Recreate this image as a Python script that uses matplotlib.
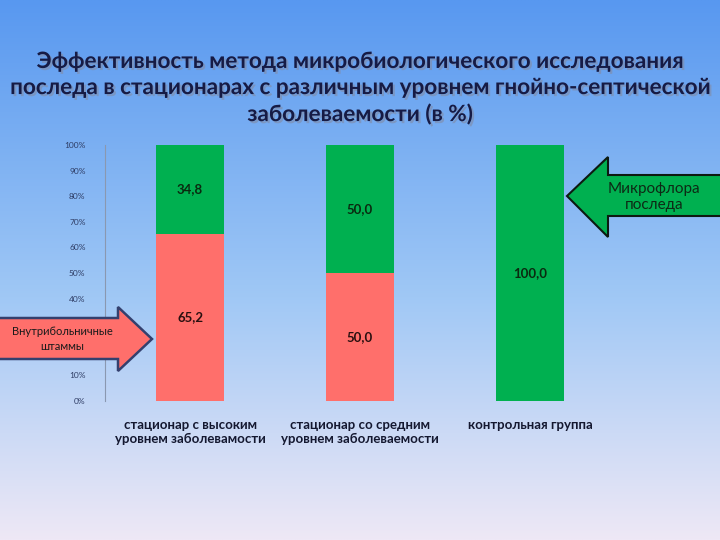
import numpy as np
import matplotlib
matplotlib.use("Agg")
import matplotlib.pyplot as plt
from matplotlib.patches import Polygon
import matplotlib.patheffects as pe

# ---------------------------------------------------------------------------- #
#                                     DATA                                     #
# ---------------------------------------------------------------------------- #
categories = ["стационар с высоким\nуровнем заболевамости",
              "стационар со средним\nуровнем заболеваемости",
              "контрольная группа"]
hospital_strains = [65.2, 50.0, 0.0]     # red, bottom
placenta_flora = [34.8, 50.0, 100.0]     # green, top
y_ticks = [0, 10, 20, 30, 40, 50, 60, 70, 80, 90, 100]

TITLE = ("Эффективность метода микробиологического исследования\n"
         "последа в стационарах с различным уровнем гнойно-септической\n"
         "заболеваемости (в %)")

RED = "#ff6f6b"
GREEN = "#00b050"
TXT = "#161b45"

plt.rcParams["font.family"] = ["Lato", "DejaVu Sans"]

fig = plt.figure(figsize=(7.2, 5.4), dpi=100)

# background gradient
bg = fig.add_axes([0, 0, 1, 1], zorder=0)
t = np.linspace(0, 1, 256)[:, None]
top = np.array([88, 152, 240]) / 255
mid = np.array([160, 200, 245]) / 255
bot = np.array([238, 232, 246]) / 255
grad = np.where(t < 0.55, top + (mid - top) * (t / 0.55),
                mid + (bot - mid) * ((t - 0.55) / 0.45))
img = np.repeat(grad.reshape(256, 1, 3), 4, axis=1)
bg.imshow(img, aspect="auto", extent=[0, 1, 0, 1], interpolation="bilinear")
bg.axis("off")

# title
fig.text(0.5, 0.837, TITLE, ha="center", va="center", fontsize=16.2,
         fontweight="bold", color=TXT, linespacing=1.3,
         path_effects=[pe.SimplePatchShadow(offset=(1.5, -1.5), shadow_rgbFace="#7f8fb0", alpha=0.7),
                       pe.Normal()])

# main chart
ax = fig.add_axes([105 / 720, 1 - 401 / 540, 510 / 720, 256 / 540], zorder=1)
ax.patch.set_alpha(0)
x = np.arange(len(categories))
ax.bar(x, hospital_strains, width=0.4, color=RED)
ax.bar(x, placenta_flora, width=0.4, bottom=hospital_strains, color=GREEN)

for i in x:
    r, g = hospital_strains[i], placenta_flora[i]
    if r > 0:
        ax.text(i, r / 2, f"{r:.1f}".replace(".", ","), ha="center", va="center",
                fontsize=9.5, fontweight="bold", color="#2a1010")
    if g > 0:
        ax.text(i, r + g / 2, f"{g:.1f}".replace(".", ","), ha="center", va="center",
                fontsize=9.5, fontweight="bold", color="#0a2a10")

ax.set_xlim(-0.5, 2.5)
ax.set_ylim(0, 100)
ax.set_yticks(y_ticks)
ax.set_yticklabels([f"{v}%" for v in y_ticks], fontsize=6, color="#2e3c64")
ax.tick_params(axis="y", length=0, pad=14)
ax.set_xticks(x)
ax.set_xticklabels(categories, fontsize=9.5, fontweight="bold", color="#141830", linespacing=1.2)
ax.tick_params(axis="x", length=0, pad=13)
for s in ["top", "right", "bottom"]:
    ax.spines[s].set_visible(False)
ax.spines["left"].set_color("#8a98b0")
ax.spines["left"].set_linewidth(0.8)

# arrows overlay (pixel coordinates)
ov = fig.add_axes([0, 0, 1, 1], zorder=2)
ov.set_xlim(0, 720)
ov.set_ylim(540, 0)
ov.axis("off")
ov.patch.set_alpha(0)

red_arrow = [(-5, 318), (118, 318), (118, 307), (152, 339), (118, 371), (118, 359), (-5, 359)]
ov.add_patch(Polygon(red_arrow, closed=True, facecolor=RED, edgecolor="#34406e", linewidth=1.8))
ov.text(62, 339, "Внутрибольничные\nштаммы", ha="center", va="center",
        fontsize=8, color="#1a1a1a", linespacing=1.35)

green_arrow = [(725, 175), (608, 175), (608, 157), (567, 196), (608, 237), (608, 216), (725, 216)]
ov.add_patch(Polygon(green_arrow, closed=True, facecolor=GREEN, edgecolor="#0d1a10", linewidth=1.5))
ov.text(654, 197, "Микрофлора\nпоследа", ha="center", va="center",
        fontsize=11, color="#0d2a15", linespacing=1.15)

fig.savefig("out.png", dpi=100)
